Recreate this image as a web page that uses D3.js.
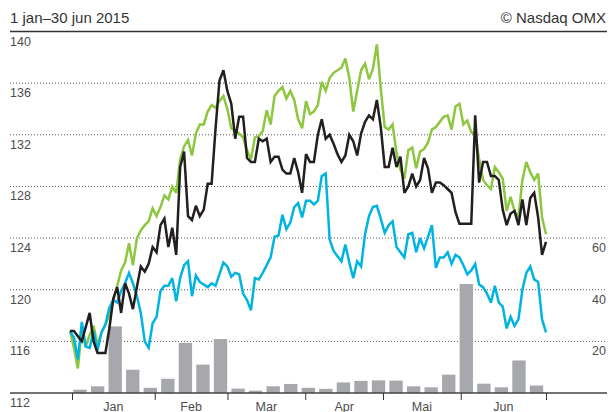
<!DOCTYPE html>
<html lang="sv">

<head>
  <title></title>
  <meta charset="UTF-8">
  <script src="https://cdn.jsdelivr.net/npm/d3@7"></script>
  <style>
    body {
      margin: 0;
      background: #fff;
    }

    text {
      font-family: "Liberation Sans", Arial, sans-serif;
    }
  </style>
</head>

<body>
  <div id="container"></div>
  <script>
    // daily closes, trading days 2 jan - 30 jun 2015
    const green = [116.8, 115.5, 113.9, 117.0, 115.6, 116.5, 117.2, 115.7, 116.7, 117.3,
      118.0, 119.2, 120.3, 121.5, 122.1, 123.6, 121.9, 124.0, 124.6, 125.0,
      125.3, 126.3, 125.7, 126.4, 127.3, 127.0, 128.0, 127.5, 130.1, 131.1,
      131.6, 130.4, 132.1, 132.8, 132.8, 133.8, 134.3, 134.1, 134.6, 135.0,
      134.0, 132.5, 132.3, 132.1, 131.8, 130.8, 130.1, 131.8, 131.9, 132.3,
      133.9, 132.8, 135.0, 135.4, 135.7, 134.8, 135.4, 134.7, 133.2, 132.5,
      134.6, 133.6, 133.8, 134.3, 136.1, 135.4, 136.4, 136.8, 137.0, 137.2,
      137.9, 136.4, 133.8, 135.4, 137.0, 137.5, 136.3, 137.1, 139.0, 135.6,
      132.6, 132.4, 132.8, 130.6, 129.3, 128.6, 130.8, 131.0, 129.4, 130.7,
      130.9, 131.4, 132.4, 132.6, 133.0, 133.4, 133.5, 132.4, 134.2, 134.4,
      132.8, 133.1, 132.2, 132.1, 130.1, 128.5, 128.1, 127.8, 129.5, 129.1,
      128.6, 126.1, 127.2, 126.1, 125.6, 128.5, 129.9, 129.1, 128.5, 129.0,
      125.6, 124.3];
    const black = [116.8, 116.8, 116.4, 116.0, 117.1, 118.2, 116.0, 115.1, 115.1, 115.1,
      117.0, 119.3, 120.2, 118.2, 120.5, 119.7, 118.5, 120.2, 121.8, 121.4,
      122.0, 123.3, 122.9, 125.0, 125.5, 123.3, 124.8, 122.7, 129.5, 130.7,
      125.7, 125.4, 126.5, 125.7, 126.2, 128.2, 128.2, 132.5, 136.2, 137.0,
      135.4, 134.4, 131.7, 133.4, 133.4, 130.2, 129.9, 129.9, 131.7, 131.5,
      131.7, 129.9, 130.3, 130.3, 129.3, 129.0, 129.0, 130.2, 129.1, 127.5,
      130.5, 129.9, 129.9, 132.0, 133.2, 131.7, 132.0, 131.3, 130.5, 129.9,
      130.4, 132.0, 131.5, 130.4, 132.1, 133.0, 133.5, 133.2, 134.7, 132.6,
      129.5, 129.5, 131.0, 129.5, 130.3, 127.5, 128.0, 129.0, 128.0, 128.5,
      130.2, 129.4, 127.5, 128.3, 128.3, 128.1, 127.8, 127.5, 126.0, 125.1,
      125.1, 125.1, 125.1, 133.5, 128.3, 129.9, 129.9, 128.8, 128.8, 128.5,
      126.2, 125.0, 125.9, 126.1, 125.0, 127.0, 125.0, 127.1, 127.5, 125.6,
      122.7, 123.7];
    const blue = [116.8, 116.3, 114.6, 117.5, 115.6, 115.5, 116.8, 115.3, 116.7, 117.3,
      118.6, 119.2, 119.0, 119.9, 120.5, 121.3, 120.5, 119.5, 118.2, 116.0,
      115.5, 117.4, 117.9, 119.9, 120.3, 120.3, 120.9, 119.1, 120.9, 121.9,
      122.2, 119.5, 121.1, 120.6, 120.4, 120.2, 120.5, 120.3, 121.2, 122.1,
      121.8, 121.0, 121.3, 121.2, 119.7, 119.2, 118.4, 120.9, 120.8, 121.3,
      121.9, 122.5, 124.1, 124.2, 125.8, 124.7, 125.2, 126.4, 126.7, 125.6,
      126.9, 126.9, 126.6, 126.9, 128.8, 129.0, 123.9, 123.0, 122.6, 122.2,
      123.5, 122.1, 120.9, 122.2, 121.8, 124.3, 125.7, 126.4, 126.5, 125.5,
      124.4, 125.0, 125.3, 123.3, 122.9, 122.5, 124.3, 124.4, 122.9, 124.0,
      123.2, 124.1, 125.0, 121.7, 122.5, 122.5, 122.9, 122.0, 122.7, 122.5,
      121.9, 121.2, 121.5, 122.0, 120.4, 120.2, 119.7, 119.0, 120.3, 119.0,
      118.7, 117.0, 117.9, 117.2, 117.7, 120.0, 121.3, 121.8, 120.8, 120.6,
      117.7, 116.7];
    // weekly volume, week 1 - 27
    const volume = [1.3, 2.6, 25.8, 9.0, 2.0, 5.5, 19.4, 11.0, 20.9, 1.7, 0.9, 2.6, 3.5, 2.0,
      1.6, 4.1, 4.7, 4.9, 4.8, 2.6, 2.2, 7.1, 42.2, 3.6, 2.2, 12.6, 2.9];
    const months = ['Jan', 'Feb', 'Mar', 'Apr', 'Mai', 'Jun'];
    const monthTicks = ['2014-12-29', '2015-01-31', '2015-03-01', '2015-04-01', '2015-05-02', '2015-06-02', '2015-07-06'];
    const priceTicks = [112, 116, 120, 124, 128, 132, 136, 140];
    const volumeTicks = [20, 40, 60];

    const size = { w: 609, h: 412 };
    const left = 10, right = 607;
    const parse = d3.timeParse('%Y-%m-%d');
    const tickDates = monthTicks.map(parse);

    const x = d3.scaleTime()
      .domain([tickDates[0], tickDates[tickDates.length - 1]])
      .range([72, 546]);
    const xDay = d3.scaleLinear()
      .domain([0, green.length - 1])
      .range([70, 546]);
    const y = d3.scaleLinear()
      .domain([112, 140])
      .range([393, 31.5]);
    const yVol = d3.scaleLinear()
      .domain([0, 60])
      .range([393, y(124)]);

    const svg = d3.select('#container')
      .append('svg')
      .attr('width', size.w)
      .attr('height', size.h);

    // title and source
    svg.append('text')
      .attr('x', left)
      .attr('y', 23)
      .style('font-size', '15px')
      .style('fill', '#333')
      .text('1 jan\u201330 jun 2015');
    svg.append('text')
      .attr('x', 606)
      .attr('y', 23)
      .attr('text-anchor', 'end')
      .style('font-size', '15px')
      .style('fill', '#333')
      .text('\u00a9 Nasdaq OMX');

    // dotted grid
    svg.append('g')
      .selectAll('line')
      .data(priceTicks.slice(1, -1))
      .enter().append('line')
      .attr('x1', left)
      .attr('x2', right)
      .attr('y1', d => y(d))
      .attr('y2', d => y(d))
      .style('stroke', '#555')
      .style('stroke-width', 1)
      .style('stroke-dasharray', '1,2');

    // top rule
    svg.append('line')
      .attr('x1', left).attr('x2', right)
      .attr('y1', y(140)).attr('y2', y(140))
      .style('stroke', '#333')
      .style('stroke-width', 1.5);

    // price labels
    svg.append('g')
      .selectAll('text')
      .data(priceTicks)
      .enter().append('text')
      .attr('x', left)
      .attr('y', d => y(d) + 14)
      .style('font-size', '12.5px')
      .style('fill', '#4d4d4d')
      .text(d => d);

    // volume labels
    svg.append('g')
      .selectAll('text')
      .data(volumeTicks)
      .enter().append('text')
      .attr('x', 606)
      .attr('y', d => yVol(d) + 14)
      .attr('text-anchor', 'end')
      .style('font-size', '12.5px')
      .style('fill', '#4d4d4d')
      .text(d => d);

    // weekly volume bars
    const weekStarts = d3.timeMonday.range(tickDates[0], tickDates[tickDates.length - 1]);
    svg.append('g')
      .selectAll('rect')
      .data(volume)
      .enter().append('rect')
      .attr('x', (d, i) => x(weekStarts[i]) + 1.4)
      .attr('width', (d, i) => x(d3.timeDay.offset(weekStarts[i], 7)) - x(weekStarts[i]) - 4.2)
      .attr('y', d => yVol(d))
      .attr('height', d => yVol(0) - yVol(d))
      .style('fill', '#a7a8ab');

    // lines
    const line = d3.line()
      .x((d, i) => xDay(i))
      .y(d => y(d));
    [[green, '#8dc63f'], [blue, '#00b4e1'], [black, '#231f20']].forEach(s => {
      svg.append('path')
        .datum(s[0])
        .attr('d', line)
        .style('fill', 'none')
        .style('stroke', s[1])
        .style('stroke-width', 2.5)
        .style('stroke-linejoin', 'miter')
        .style('stroke-miterlimit', 3);
    });

    // bottom axis
    svg.append('line')
      .attr('x1', left).attr('x2', right)
      .attr('y1', y(112)).attr('y2', y(112))
      .style('stroke', '#444')
      .style('stroke-width', 1.5);

    const axis = d3.axisBottom(x)
      .tickValues(tickDates)
      .tickSize(7)
      .tickFormat('');
    const gx = svg.append('g')
      .attr('transform', 'translate(0,' + y(112) + ')')
      .call(axis);
    gx.select('.domain').remove();
    gx.selectAll('.tick line').style('stroke', '#333').style('stroke-width', 1);

    svg.append('g')
      .selectAll('text')
      .data(months)
      .enter().append('text')
      .attr('x', (d, i) => (x(tickDates[i]) + x(tickDates[i + 1])) / 2)
      .attr('y', 410.5)
      .attr('text-anchor', 'middle')
      .style('font-size', '12.5px')
      .style('fill', '#4d4d4d')
      .text(d => d);
  </script>
</body>

</html>
